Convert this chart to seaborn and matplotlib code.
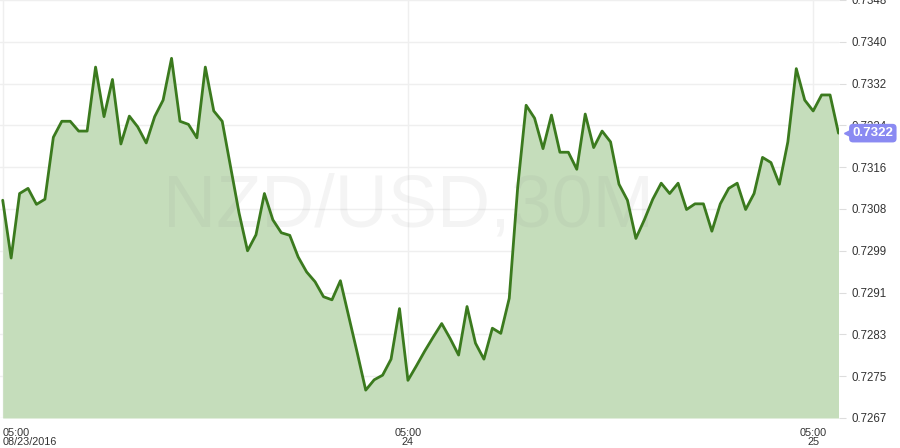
import numpy as np
import pandas as pd
import matplotlib
matplotlib.use("Agg")
import matplotlib.pyplot as plt
import matplotlib.transforms as mtransforms
import seaborn as sns

# NZD/USD, 30 minute closes
start_time = "2016-08-23 05:00"
prices = [
    0.73092, 0.72980, 0.73105, 0.73115, 0.73084, 0.73094, 0.73214, 0.73245, 0.73245, 0.73226,
    0.73226, 0.73350, 0.73254, 0.73326, 0.73201, 0.73255, 0.73234, 0.73203, 0.73254, 0.73286,
    0.73367, 0.73245, 0.73239, 0.73213, 0.73350, 0.73265, 0.73245, 0.73156, 0.73067, 0.72994,
    0.73025, 0.73105, 0.73054, 0.73029, 0.73024, 0.72982, 0.72953, 0.72934, 0.72905, 0.72899,
    0.72936, 0.72866, 0.72796, 0.72724, 0.72744, 0.72753, 0.72784, 0.72882, 0.72743, 0.72771,
    0.72800, 0.72827, 0.72853, 0.72824, 0.72792, 0.72886, 0.72815, 0.72784, 0.72844, 0.72834,
    0.72902, 0.73117, 0.73276, 0.73251, 0.73192, 0.73257, 0.73185, 0.73185, 0.73152, 0.73259,
    0.73194, 0.73226, 0.73205, 0.73123, 0.73092, 0.73018, 0.73054, 0.73094, 0.73125, 0.73105,
    0.73125, 0.73074, 0.73085, 0.73085, 0.73032, 0.73085, 0.73115, 0.73125, 0.73074, 0.73105,
    0.73175, 0.73165, 0.73123, 0.73205, 0.73347, 0.73286, 0.73265, 0.73296, 0.73296, 0.73222,
]
ytick_labels = ["0.7267", "0.7275", "0.7283", "0.7291", "0.7299", "0.7308",
                "0.7316", "0.7324", "0.7332", "0.7340", "0.7348"]
xtick_times = ["2016-08-23 05:00", "2016-08-24 05:00", "2016-08-25 05:00"]
xtick_labels = ["05:00\n08/23/2016", "05:00\n24", "05:00\n25"]
watermark = "NZD/USD,30M"

times = pd.date_range(start_time, periods=len(prices), freq="30min")
df = pd.DataFrame({"time": times, "price": prices})

sns.set_theme(style="white")
plt.rcParams["font.family"] = ["Liberation Sans", "DejaVu Sans"]

line_color = "#3b7a1e"
fill_color = "#c5ddbb"
text_color = "#333333"

fig = plt.figure(figsize=(9, 4.48), dpi=100)
ax = fig.add_axes([0, 30 / 448, 838.5 / 900, 418 / 448])

y_low, y_high = 0.72670, 0.73480
ax.fill_between(df["time"], df["price"], y_low, color=fill_color, lw=0, zorder=1)
sns.lineplot(data=df, x="time", y="price", ax=ax, color=line_color, lw=2, zorder=3)

ax.set_ylim(y_low, y_high)
ax.set_xlim(times[0] - pd.Timedelta(minutes=9.6), times[-1])

ax.yaxis.tick_right()
ax.set_yticks(np.linspace(y_low, y_high, len(ytick_labels)))
ax.set_yticklabels(ytick_labels)
ax.set_xticks(pd.to_datetime(xtick_times))
ax.set_xticklabels(xtick_labels)
ax.get_xticklabels()[0].set_ha("left")

ax.tick_params(axis="y", right=True, length=5, width=0.8, color="#dddddd",
               labelsize=8.3, labelcolor=text_color, pad=4)
ax.tick_params(axis="x", bottom=False, labelsize=7.8, labelcolor=text_color, pad=1)
for lbl in ax.get_xticklabels():
    lbl.set_linespacing(0.85)

ax.grid(True, color="#efefef", lw=1)
ax.set_axisbelow(True)
sns.despine(ax=ax, left=True, bottom=True, right=True, top=True)
ax.set_xlabel("")
ax.set_ylabel("")

# watermark
ax.text(0.487, 0.505, watermark, transform=ax.transAxes, ha="center", va="center",
        fontsize=53, color="#888888", alpha=0.09, zorder=2.5)

# current price tag
last = prices[-1]
tag_color = "#8a8af2"
ax.annotate(f"{last:.4f}", xy=(1, last), xycoords=("axes fraction", "data"),
            xytext=(10, 0), textcoords="offset points", ha="left", va="center",
            color="white", fontsize=9.5, fontweight="bold", annotation_clip=False,
            bbox=dict(boxstyle="round,pad=0.25,rounding_size=0.3", fc=tag_color, ec="none"),
            zorder=6)
tri_tf = mtransforms.offset_copy(ax.get_yaxis_transform(), fig=fig, x=6.5, y=0, units="points")
ax.plot([1], [last], marker="<", ms=6, color=tag_color, transform=tri_tf,
        clip_on=False, zorder=6)

fig.savefig("out.png", dpi=100)
